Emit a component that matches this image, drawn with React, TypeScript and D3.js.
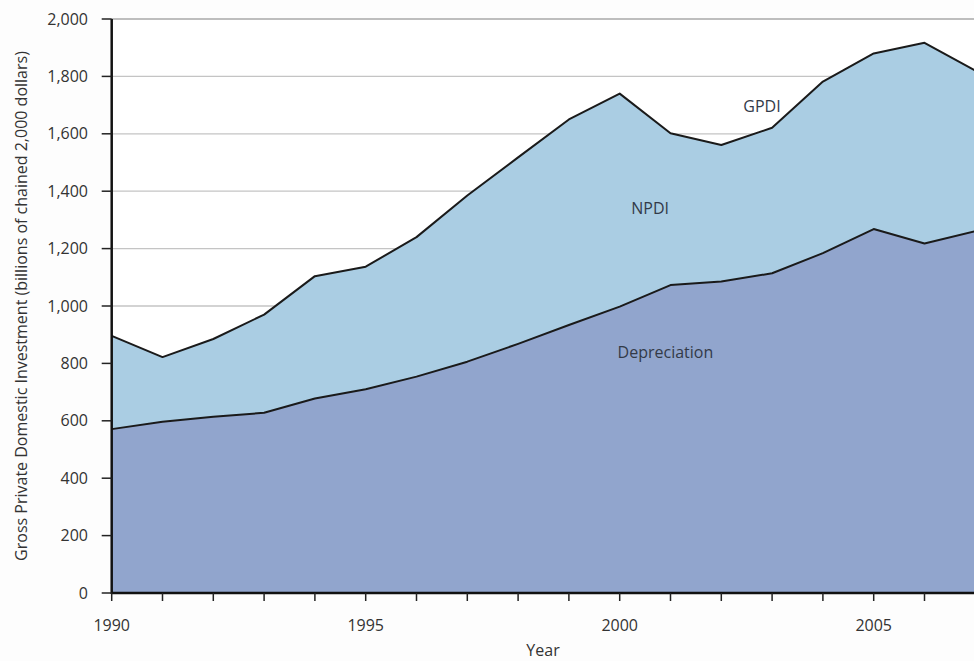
import React from "react";
import * as d3 from "d3";

const years = [1990,1991,1992,1993,1994,1995,1996,1997,1998,1999,2000,2001,2002,2003,2004,2005,2006,2007];
const gpdi = [896,822,885,970,1104,1137,1240,1385,1518,1650,1740,1602,1561,1621,1782,1880,1917,1820];
const depreciation = [571,597,614,628,678,710,754,806,868,934,998,1073,1085,1114,1184,1268,1218,1261];
const yTicks = [0,200,400,600,800,1000,1200,1400,1600,1800,2000];
const xLabelYears = [1990,1995,2000,2005];
const areaLabels = [
  { text: "GPDI", year: 2002.8, value: 1676 },
  { text: "NPDI", year: 2000.6, value: 1320 },
  { text: "Depreciation", year: 2000.9, value: 820 },
];

const W = 974, H = 661;
const x0 = 111.7, yBottom = 593, yTop = 19;

export default function App() {
  const x = d3.scaleLinear().domain([1990, 2007]).range([x0, 975.3]);
  const y = d3.scaleLinear().domain([0, 2000]).range([yBottom, yTop]);
  const rows = years.map((yr, i) => ({ yr, g: gpdi[i], d: depreciation[i] }));

  const depArea = d3.area<any>().x(r => x(r.yr)).y0(y(0)).y1(r => y(r.d));
  const npdiArea = d3.area<any>().x(r => x(r.yr)).y0(r => y(r.d)).y1(r => y(r.g));
  const depLine = d3.line<any>().x(r => x(r.yr)).y(r => y(r.d));
  const gLine = d3.line<any>().x(r => x(r.yr)).y(r => y(r.g));
  const font = "'Open Sans', 'Noto Sans', sans-serif";
  const allYears = d3.range(1990, 2008);

  return (
    <svg width={W} height={H} style={{ position: "absolute", left: 0, top: 0, background: "#fdfdfd" }}>
      <defs>
        <filter id="blur2" x="-20%" y="-50%" width="140%" height="200%">
          <feGaussianBlur stdDeviation="2.2" />
        </filter>
        <filter id="blur3" x="-20%" y="-50%" width="140%" height="200%">
          <feGaussianBlur stdDeviation="3" />
        </filter>
      </defs>
      <rect x={0} y={0} width={W} height={H} fill="#fdfdfd" />
      {/* top shadow band */}
      <line x1={x0} x2={W} y1={yTop - 2} y2={yTop - 2} stroke="#7a7a7a" strokeWidth={5} filter="url(#blur2)" />
      <rect x={x0} y={yTop} width={W - x0} height={yBottom - yTop} fill="#ffffff" />
      <line x1={x0} x2={W} y1={yTop} y2={yTop} stroke="#a8a8a8" strokeWidth={1.4} />
      {/* gridlines */}
      {yTicks.filter(t => t > 0 && t < 2000).map(t => (
        <line key={t} x1={x0} x2={W} y1={y(t)} y2={y(t)} stroke="#c4c4c4" strokeWidth={1.3} />
      ))}
      {/* areas */}
      <path d={npdiArea(rows) || ""} fill="#aacde3" />
      <path d={depArea(rows) || ""} fill="#91a5cd" />
      <path d={gLine(rows) || ""} fill="none" stroke="#1a1a1a" strokeWidth={2} strokeLinejoin="round" />
      <path d={depLine(rows) || ""} fill="none" stroke="#1a1a1a" strokeWidth={2} strokeLinejoin="round" />
      {/* axis shadows */}
      <line x1={x0 - 2} x2={x0 - 2} y1={yTop} y2={yBottom} stroke="#777" strokeWidth={5} filter="url(#blur2)" />
      <line x1={x0} x2={W} y1={yBottom + 4} y2={yBottom + 4} stroke="#888" strokeWidth={6} filter="url(#blur3)" />
      {/* axes */}
      <line x1={x0} x2={x0} y1={yTop} y2={yBottom + 1} stroke="#111" strokeWidth={2.5} />
      <line x1={x0} x2={W} y1={yBottom} y2={yBottom} stroke="#111" strokeWidth={2.5} />
      {yTicks.map(t => (
        <g key={t}>
          <line x1={x0 - 10} x2={x0} y1={y(t)} y2={y(t)} stroke="#222" strokeWidth={1.5} />
          <text x={88} y={y(t)} dy="0.35em" textAnchor="end" fontFamily={font} fontSize={16} fill="#333">
            {d3.format(",")(t)}
          </text>
        </g>
      ))}
      {allYears.map(yr => (
        <line key={yr} x1={x(yr)} x2={x(yr)} y1={yBottom} y2={yBottom + 8} stroke="#222" strokeWidth={1.5} />
      ))}
      {xLabelYears.map(yr => (
        <text key={yr} x={x(yr)} y={631} textAnchor="middle" fontFamily={font} fontSize={16} fill="#333">
          {yr}
        </text>
      ))}
      <text x={543} y={656} textAnchor="middle" fontFamily={font} fontSize={16} fill="#333">Year</text>
      <text transform={`translate(27,${(yTop + yBottom) / 2}) rotate(-90)`} textAnchor="middle" fontFamily={font} fontSize={16} fill="#333">
        Gross Private Domestic Investment (billions of chained 2,000 dollars)
      </text>
      {areaLabels.map(l => (
        <text key={l.text} x={x(l.year)} y={y(l.value)} textAnchor="middle" fontFamily={font} fontSize={16} fill="#333a48">
          {l.text}
        </text>
      ))}
    </svg>
  );
}
